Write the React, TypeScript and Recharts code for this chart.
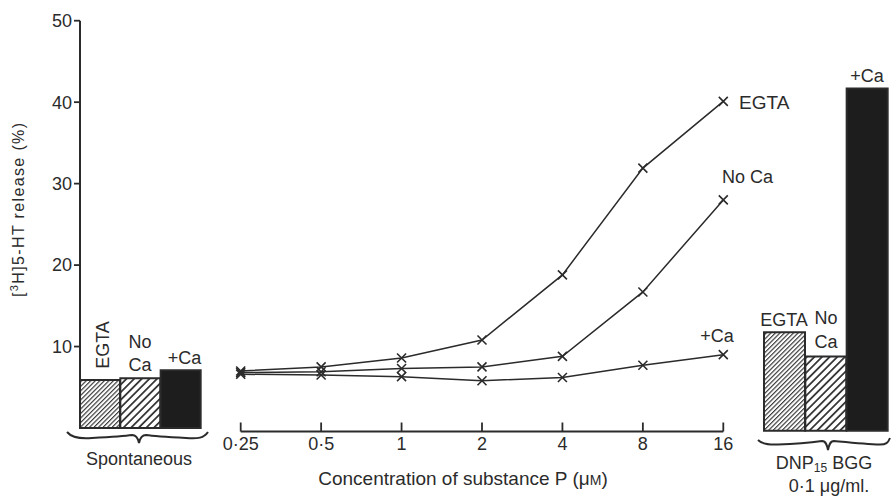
import { BarChart, Bar, Cell, LineChart, Line, XAxis, YAxis } from "recharts";

const INK = "#2b2b2b";
const FONT = "'Liberation Sans', Arial, Helvetica, sans-serif";

// substance P concentrations (uM), log-spaced categories
const concLabels = ["0·25", "0·5", "1", "2", "4", "8", "16"];
const egtaRelease = [7.0, 7.5, 8.6, 10.8, 18.8, 31.9, 40.1];
const noCaRelease = [6.8, 6.9, 7.3, 7.5, 8.8, 16.7, 28.0];
const plusCaRelease = [6.6, 6.5, 6.3, 5.8, 6.2, 7.7, 9.0];

// bar groups
const barGroups = ["EGTA", "No Ca", "+Ca"];
const spontaneousRelease = [5.9, 6.1, 7.1];
const dnpRelease = [12.1, 9.1, 42.0];

const yTicks = [10, 20, 30, 40, 50];

const lineData = concLabels.map((conc, i) => ({
  conc,
  egta: egtaRelease[i],
  noCa: noCaRelease[i],
  plusCa: plusCaRelease[i],
}));
const spontData = barGroups.map((name, i) => ({ name, value: spontaneousRelease[i] }));
const dnpData = barGroups.map((name, i) => ({ name, value: dnpRelease[i] }));

const fills = (p: string) => [`url(#${p}-fine)`, `url(#${p}-coarse)`, "#1d1d1d"];

const hatchDefs = (p: string) => (
  <defs>
    <pattern id={`${p}-fine`} patternUnits="userSpaceOnUse" width="3.2" height="3.2" patternTransform="rotate(45)">
      <rect width="3.2" height="3.2" fill="#fff" />
      <line x1="0.6" y1="0" x2="0.6" y2="3.2" stroke={INK} strokeWidth="1.1" />
    </pattern>
    <pattern id={`${p}-coarse`} patternUnits="userSpaceOnUse" width="5.4" height="5.4" patternTransform="rotate(45)">
      <rect width="5.4" height="5.4" fill="#fff" />
      <line x1="0.9" y1="0" x2="0.9" y2="5.4" stroke={INK} strokeWidth="1.7" />
    </pattern>
  </defs>
);

const Cross = (props: any) => {
  const { cx, cy, index } = props;
  if (cx == null || cy == null) return <g key={`n-${index}`} />;
  const s = 4.5;
  return (
    <path
      key={`x-${index}`}
      d={`M${cx - s},${cy - s}L${cx + s},${cy + s}M${cx - s},${cy + s}L${cx + s},${cy - s}`}
      stroke={INK}
      strokeWidth={1.6}
      fill="none"
    />
  );
};

const ConcTick = (props: any) => {
  const { x, y, payload } = props;
  return (
    <g>
      <line x1={x} x2={x} y1={y - 9} y2={y} stroke={INK} strokeWidth={1.8} />
      <text x={x} y={y + 18.5} textAnchor="middle" fontSize={18} fill={INK} fontFamily={FONT}>
        {payload.value}
      </text>
    </g>
  );
};

export default function App() {
  const txt = { fill: INK, fontSize: 18, fontFamily: FONT };
  return (
    <div style={{ position: "absolute", left: 0, top: 0, width: 892, height: 496, background: "#fff" }}>
      <div style={{ position: "absolute", left: 0, top: 0 }}>
        <BarChart
          width={210}
          height={496}
          data={spontData}
          margin={{ top: 20.7, right: 9, bottom: 68, left: 0 }}
          barCategoryGap={0}
          barGap={0}
        >
          {hatchDefs("sp")}
          <XAxis dataKey="name" hide />
          <YAxis
            width={80}
            domain={[0, 50]}
            ticks={yTicks}
            tickSize={6}
            tickMargin={2}
            axisLine={{ stroke: INK, strokeWidth: 2 }}
            tickLine={{ stroke: INK, strokeWidth: 1.8 }}
            tick={{ fill: INK, fontSize: 18, fontFamily: FONT }}
          />
          <Bar dataKey="value" stroke={INK} strokeWidth={2} isAnimationActive={false}>
            {spontData.map((d, i) => (
              <Cell key={d.name} fill={fills("sp")[i]} />
            ))}
          </Bar>
        </BarChart>
      </div>

      <div style={{ position: "absolute", left: 220, top: 0 }}>
        <LineChart
          width={520}
          height={496}
          data={lineData}
          margin={{ top: 20.7, right: 16.7, bottom: 34.5, left: 20.7 }}
        >
          <XAxis
            dataKey="conc"
            height={30}
            interval={0}
            tickSize={0}
            tickMargin={0}
            tickLine={false}
            axisLine={{ stroke: INK, strokeWidth: 2 }}
            tick={<ConcTick />}
          />
          <YAxis hide domain={[-0.43, 50]} allowDataOverflow />
          <Line dataKey="egta" stroke={INK} strokeWidth={1.5} dot={Cross} activeDot={false} isAnimationActive={false} />
          <Line dataKey="noCa" stroke={INK} strokeWidth={1.5} dot={Cross} activeDot={false} isAnimationActive={false} />
          <Line dataKey="plusCa" stroke={INK} strokeWidth={1.5} dot={Cross} activeDot={false} isAnimationActive={false} />
        </LineChart>
      </div>

      <div style={{ position: "absolute", left: 750, top: 0 }}>
        <BarChart
          width={142}
          height={496}
          data={dnpData}
          margin={{ top: 23.4, right: 4, bottom: 65.3, left: 14 }}
          barCategoryGap={0}
          barGap={0}
        >
          {hatchDefs("dnp")}
          <XAxis dataKey="name" hide />
          <YAxis hide domain={[0, 50]} />
          <Bar dataKey="value" stroke={INK} strokeWidth={2} isAnimationActive={false}>
            {dnpData.map((d, i) => (
              <Cell key={d.name} fill={fills("dnp")[i]} />
            ))}
          </Bar>
        </BarChart>
      </div>

      <svg width={892} height={496} style={{ position: "absolute", left: 0, top: 0, pointerEvents: "none" }}>
        <text
          x={24}
          y={210}
          textAnchor="middle"
          transform="rotate(-90, 24, 210)"
          fill={INK}
          fontSize={16}
          fontFamily={FONT}
          textLength={174}
          lengthAdjust="spacing"
        >
          [<tspan fontSize={11} dy={-6}>3</tspan>
          <tspan dy={6}>H]5-HT release (%)</tspan>
        </text>

        {/* spontaneous bar labels */}
        <text x={108.5} y={345} textAnchor="middle" transform="rotate(-90, 108.5, 345)" {...txt}>EGTA</text>
        <text x={140} y={348} textAnchor="middle" {...txt}>No</text>
        <text x={140} y={371} textAnchor="middle" {...txt}>Ca</text>
        <text x={184.5} y={364} textAnchor="middle" {...txt}>+Ca</text>
        <path
          d="M67,432 C72,438 80,439 92,438 C110,437 125,436 132,435 C136,435 138,438 139,443 C140,438 142,435 146,435 C153,436 168,437 186,438 C198,439 204,438 208,432"
          stroke={INK}
          strokeWidth={2}
          fill="none"
        />
        <text x={139} y={465} textAnchor="middle" {...txt}>Spontaneous</text>

        {/* line labels */}
        <text x={739} y={109} {...txt} fontSize={19}>EGTA</text>
        <text x={722} y={183} {...txt}>No Ca</text>
        <text x={717} y={342} textAnchor="middle" {...txt}>+Ca</text>
        <text x={463} y={485} textAnchor="middle" {...txt} fontSize={19}>
          Concentration of substance P (μ<tspan fontSize={14}>M</tspan>)
        </text>

        {/* DNP bar labels */}
        <text x={784} y={326} textAnchor="middle" {...txt}>EGTA</text>
        <text x={826} y={324} textAnchor="middle" {...txt}>No</text>
        <text x={826} y={348} textAnchor="middle" {...txt}>Ca</text>
        <text x={867} y={81.5} textAnchor="middle" {...txt}>+Ca</text>
        <path
          d="M758,440 C762,444 768,445 778,444.5 C795,444 815,442 822,441 C826,441 827,445 828,450 C829,445 830,441 834,441 C845,442 865,444 880,444.5 C886,444.5 888,443 890,438"
          stroke={INK}
          strokeWidth={2}
          fill="none"
        />
        <text x={824} y={469} textAnchor="middle" {...txt}>
          DNP<tspan fontSize={12} dy={2.5}>15</tspan>
          <tspan dy={-2.5}> BGG</tspan>
        </text>
        <text x={829} y={492} textAnchor="middle" {...txt}>0·1 μg/ml.</text>
      </svg>
    </div>
  );
}
